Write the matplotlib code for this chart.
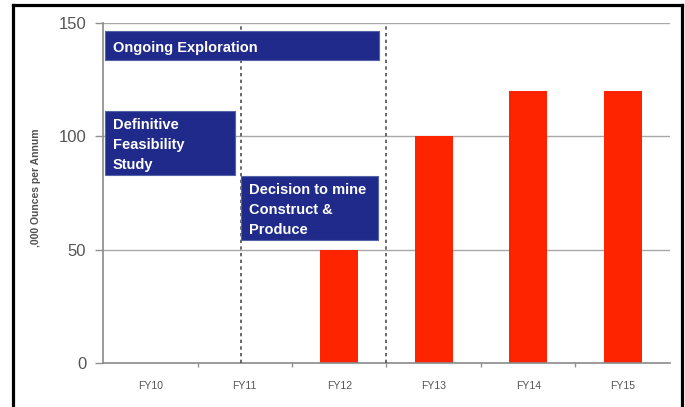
import matplotlib
matplotlib.use("Agg")
import matplotlib.pyplot as plt
from matplotlib.patches import Rectangle
from matplotlib.lines import Line2D

categories = ["FY10", "FY11", "FY12", "FY13", "FY14", "FY15"]
production = [0, 0, 50, 100, 120, 120]
y_ticks = [0, 50, 100, 150]
y_label = ",000 Ounces per Annum"

# phase boxes: (label, x_start, x_end, y_bottom, y_top)
phase_labels = ["Ongoing Exploration", "Definitive\nFeasibility\nStudy", "Decision to mine\nConstruct &\nProduce"]
phase_x0 = [-0.48, -0.48, 0.96]
phase_x1 = [2.42, 0.90, 2.41]
phase_y0 = [133.7, 82.9, 54.3]
phase_y1 = [146.5, 111.2, 82.5]
divider_x = [0.96, 2.5]

plt.rcParams['font.family'] = ['Liberation Sans', 'DejaVu Sans']

fig = plt.figure(figsize=(6.85, 4.07), dpi=100)
ax = fig.add_axes([103/685, 1-363/407, (670-103)/685, (363-23)/407])

x = list(range(len(categories)))
ax.bar(x, production, width=0.4, color='#FF2400', zorder=2)

ax.set_xlim(-0.5, len(categories) - 0.5)
ax.set_ylim(0, 150)
ax.set_yticks(y_ticks)
ax.set_yticklabels([str(t) for t in y_ticks], fontsize=12, color='#555555')
ax.set_xticks(x)
ax.set_xticklabels(categories, fontsize=7.5, color='#555555')
ax.set_xticks([i + 0.5 for i in range(len(categories) - 1)], minor=True)
ax.tick_params(axis='x', which='major', length=0, pad=13)
ax.tick_params(axis='x', which='minor', length=3, color='#909090', width=1)
ax.tick_params(axis='y', length=6, color='#909090', width=1, pad=6)

for s in ['top', 'right']:
    ax.spines[s].set_visible(False)
for s in ['left', 'bottom']:
    ax.spines[s].set_color('#8a8a8a')
    ax.spines[s].set_linewidth(1.2)

for t in y_ticks[1:]:
    ax.axhline(t, color='#a8a8a8', lw=1, zorder=0.5)

for dx in divider_x:
    ax.vlines(dx, 0, 150, colors='#505050', linestyles=(0, (2, 2)), lw=1.2, zorder=3)

for lab, x0, x1, y0, y1 in zip(phase_labels, phase_x0, phase_x1, phase_y0, phase_y1):
    ax.add_patch(Rectangle((x0, y0), x1 - x0, y1 - y0, facecolor='#1F2A8A',
                           edgecolor='#5563a8', lw=0.8, zorder=4))
    ax.text(x0 + 0.085, (y0 + y1) / 2 - 1.0, lab, color='white', fontsize=10.5,
            fontweight='bold', va='center', ha='left', linespacing=1.55, zorder=5)

fig.text(36/685, 1-188/407, y_label, rotation=90, fontsize=7.5, fontweight='bold',
         color='#505050', ha='center', va='center')

# outer frame
lw = 2.3
fig.add_artist(Line2D([13/685, 13/685], [0, 1-4.5/407], color='black', lw=lw))
fig.add_artist(Line2D([13/685, 681.5/685], [1-4.5/407, 1-4.5/407], color='black', lw=lw))
fig.add_artist(Line2D([681.5/685, 681.5/685], [0, 1-4.5/407], color='black', lw=lw))

fig.savefig("out.png", dpi=100)
